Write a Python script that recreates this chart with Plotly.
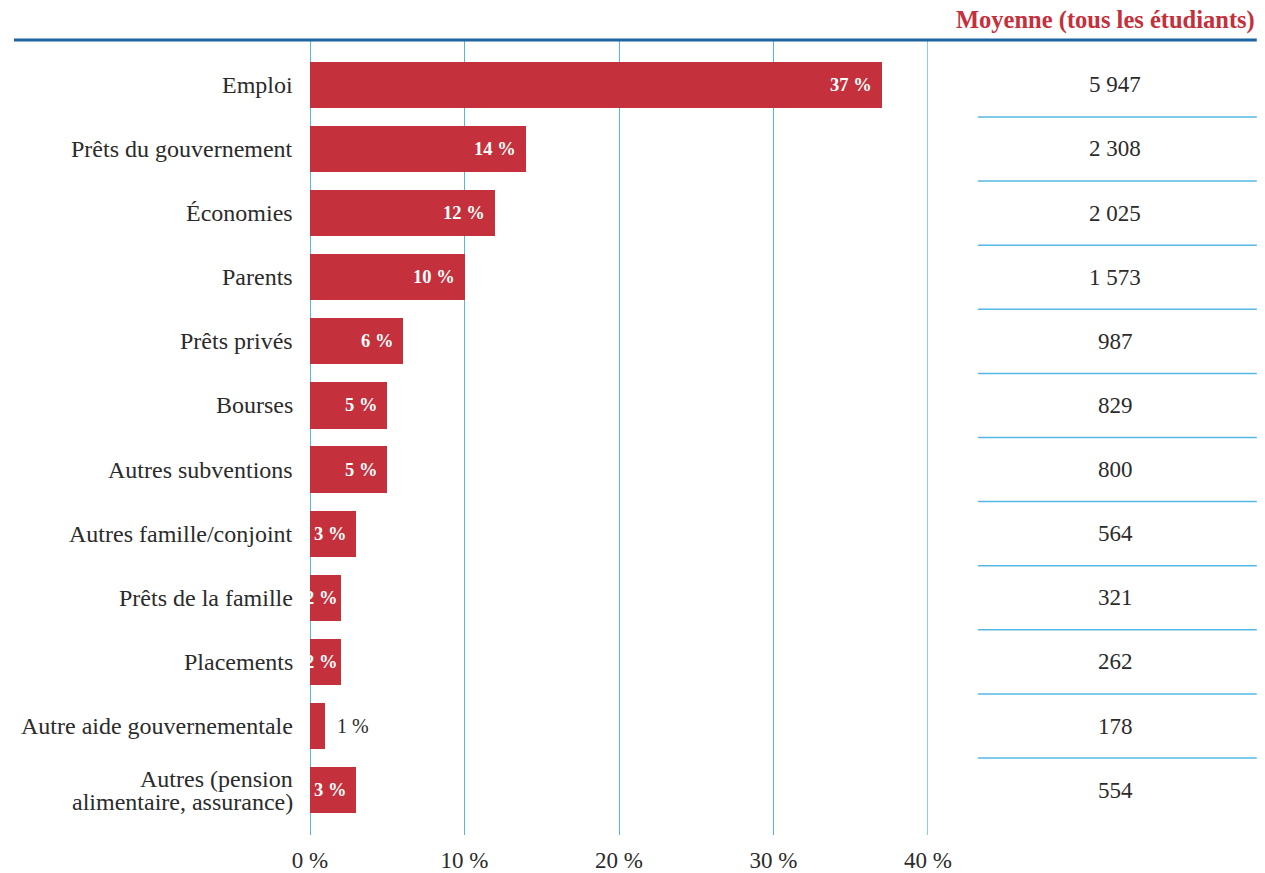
import plotly.graph_objects as go

# Sources de financement des études
categories = [
    "Emploi",
    "Prêts du gouvernement",
    "Économies",
    "Parents",
    "Prêts privés",
    "Bourses",
    "Autres subventions",
    "Autres famille/conjoint",
    "Prêts de la famille",
    "Placements",
    "Autre aide gouvernementale",
    "Autres (pension\nalimentaire, assurance)",
]
share_pct = [37, 14, 12, 10, 6, 5, 5, 3, 2, 2, 1, 3]
average_amount = ["5 947", "2 308", "2 025", "1 573", "987", "829", "800",
                  "564", "321", "262", "178", "554"]
x_ticks = [0, 10, 20, 30, 40]
x_tick_labels = ["0 %", "10 %", "20 %", "30 %", "40 %"]
column_title = "Moyenne (tous les étudiants)"

RED = "#C4303B"
GRID = "#55B8E4"
DARK_BLUE = "#1C64A0"
TEXT = "#2b2b2b"
SERIF = "Liberation Serif"

idx = list(range(len(categories)))

fig = go.Figure()
fig.add_trace(go.Bar(
    x=share_pct,
    y=idx,
    orientation="h",
    marker=dict(color=RED, line=dict(width=0)),
    width=0.72,
    hoverinfo="skip",
))

annotations = []

# Libellés des catégories (à gauche de l'axe), sur une ou deux lignes
for i, name in enumerate(categories):
    lines = name.split("\n")
    n = len(lines)
    for k, line in enumerate(lines):
        annotations.append(dict(x=0, y=i, xref="paper", yref="y", text=line,
                                xanchor="right", yanchor="middle", xshift=-15,
                                yshift=(n - 1) * 11.5 - k * 23,
                                showarrow=False,
                                font=dict(family=SERIF, size=24, color=TEXT)))

# Valeurs en pourcentage sur les barres
for i, v in enumerate(share_pct):
    label = f"{v} %"
    if v >= 3:
        annotations.append(dict(x=v, y=i, xref="x", yref="y", text=f"<b>{label}</b>",
                                xanchor="right", xshift=-8, showarrow=False,
                                font=dict(family=SERIF, size=18.5, color="white")))
    elif v >= 2:
        annotations.append(dict(x=v, y=i, xref="x", yref="y", text=f"<b>{label}</b>",
                                xanchor="right", xshift=-2, showarrow=False,
                                font=dict(family=SERIF, size=18.5, color="white")))
    else:
        annotations.append(dict(x=v, y=i, xref="x", yref="y", text=label,
                                xanchor="left", xshift=10, showarrow=False,
                                font=dict(family=SERIF, size=20, color=TEXT)))

# Colonne des montants moyens
for i, amt in enumerate(average_amount):
    annotations.append(dict(x=1.3026, y=i, xref="paper", yref="y", text=amt,
                            xanchor="center", showarrow=False,
                            font=dict(family=SERIF, size=23, color=TEXT)))

annotations.append(dict(x=1.532, y=1.025, xref="paper", yref="paper",
                        text=f"<b>{column_title}</b>", xanchor="right", yanchor="middle",
                        showarrow=False, font=dict(family=SERIF, size=24.5, color=RED)))

shapes = []
# Trait vertical à 40 %, en bordure de la zone de tracé
shapes.append(dict(type="line", xref="x", yref="paper", x0=40, x1=40, y0=0, y1=1,
                   line=dict(color=GRID, width=1.4), layer="below"))
for i in range(len(categories) - 1):
    shapes.append(dict(type="line", xref="paper", yref="y", x0=1.081, x1=1.532,
                       y0=i + 0.5, y1=i + 0.5, line=dict(color=GRID, width=1.5)))
shapes.append(dict(type="line", xref="paper", yref="paper", x0=-0.479, x1=1.532,
                   y0=1, y1=1, line=dict(color=DARK_BLUE, width=3)))

fig.update_layout(
    width=1265,
    height=873,
    margin=dict(l=310, r=337, t=40, b=38),
    paper_bgcolor="white",
    plot_bgcolor="white",
    showlegend=False,
    bargap=0,
    annotations=annotations,
    shapes=shapes,
    xaxis=dict(
        range=[0, 40],
        tickvals=x_ticks,
        ticktext=x_tick_labels,
        showgrid=True,
        gridcolor=GRID,
        gridwidth=1.4,
        zeroline=True,
        zerolinecolor=GRID,
        zerolinewidth=1.4,
        showline=False,
        ticks="",
        ticklabelstandoff=9,
        tickfont=dict(family=SERIF, size=23, color=TEXT),
        automargin=False,
        fixedrange=True,
    ),
    yaxis=dict(
        range=[11.7, -0.7],
        showticklabels=False,
        showgrid=False,
        zeroline=False,
        showline=False,
        ticks="",
        automargin=False,
        fixedrange=True,
    ),
)

fig.write_html("out.html")
